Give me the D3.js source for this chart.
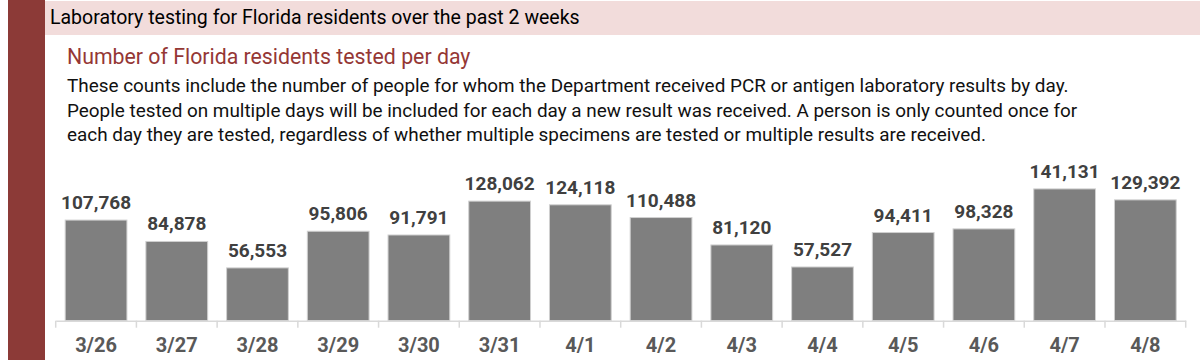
<!DOCTYPE html>
<html><head><meta charset="utf-8">
<script src="https://cdn.jsdelivr.net/npm/d3@7"></script>
<style>
html,body{margin:0;padding:0;background:#fff;}
svg{display:block;}
text{font-family:"Liberation Sans Narrow","Arial Narrow","Roboto",sans-serif;}
</style></head>
<body>
<svg id="chart" width="1200" height="360"></svg>
<script>
const title = "Laboratory testing for Florida residents over the past 2 weeks";
const subtitle = "Number of Florida residents tested per day";
const notes = [
  "These counts include the number of people for whom the Department received PCR or antigen laboratory results by day.",
  "People tested on multiple days will be included for each day a new result was received. A person is only counted once for",
  "each day they are tested, regardless of whether multiple specimens are tested or multiple results are received."
];
const categories = ["3/26","3/27","3/28","3/29","3/30","3/31","4/1","4/2","4/3","4/4","4/5","4/6","4/7","4/8"];
const tested = [107768,84878,56553,95806,91791,128062,124118,110488,81120,57527,94411,98328,141131,129392];

const svg = d3.select("#chart");
// frame
svg.append("rect").attr("x",8).attr("y",0).attr("width",37).attr("height",360).attr("fill","#8c3a37");
svg.append("rect").attr("x",45).attr("y",1).attr("width",1155).attr("height",34).attr("fill","#f2dcdb");
svg.append("text").attr("x",50).attr("y",24).attr("font-size",19.5).attr("fill","#000").text(title);
svg.append("text").attr("x",67).attr("y",64).attr("font-size",21.3).attr("fill","#953735").text(subtitle);
svg.selectAll("text.note").data(notes).join("text").attr("class","note")
  .attr("x",67).attr("y",(d,i)=>92+i*24.5).attr("font-size",18.9).attr("fill","#111").text(d=>d);

const x = d3.scaleBand().domain(categories).range([55.7,1185.7]).paddingInner(0.235).paddingOuter(0.1175);
const y = d3.scaleLinear().domain([0,160000]).range([320.7,171.3]);

const g = svg.append("g");
g.selectAll("rect.bar").data(tested).join("rect").attr("class","bar")
  .attr("x",(d,i)=>x(categories[i])).attr("width",x.bandwidth())
  .attr("y",d=>y(d)).attr("height",d=>y(0)-y(d))
  .attr("fill","#7f7f7f").attr("stroke","#d0d0d0").attr("stroke-width",1);
g.selectAll("text.val").data(tested).join("text").attr("class","val")
  .attr("x",(d,i)=>x(categories[i])+x.bandwidth()/2).attr("y",d=>y(d)-11)
  .attr("text-anchor","middle").attr("font-size",19).attr("font-weight","bold").attr("fill","#404040")
  .text(d=>d3.format(",")(d));

const xb = d3.scaleLinear().domain([0,categories.length]).range([55.7,1185.7]);
const axis = d3.axisBottom(x).tickSize(0).tickPadding(0);
const ax = svg.append("g").attr("transform",`translate(0,${y(0)})`).call(axis);
ax.select(".domain").attr("stroke","#d9d9d9").attr("stroke-width",1.5);
ax.selectAll(".tick text").attr("font-size",20).attr("font-weight","bold").attr("fill","#595959").attr("dy",0).attr("y",31);
svg.append("g").selectAll("line").data(d3.range(categories.length+1)).join("line")
  .attr("x1",d=>xb(d)).attr("x2",d=>xb(d)).attr("y1",y(0)).attr("y2",y(0)+7)
  .attr("stroke","#d9d9d9").attr("stroke-width",1.5);
</script>
</body></html>
